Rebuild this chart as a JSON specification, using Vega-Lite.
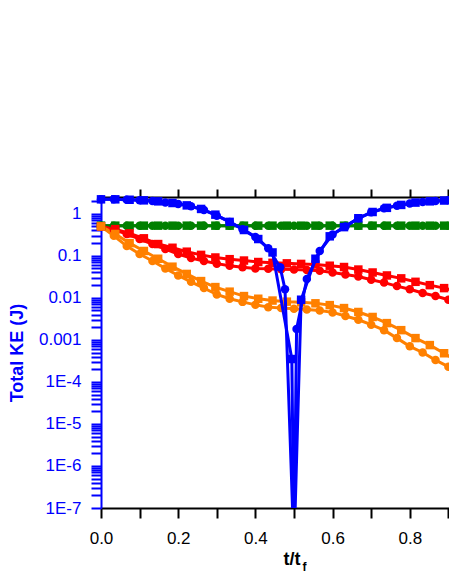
{
 "$schema": "https://vega.github.io/schema/vega-lite/v6.json",
 "width": 348,
 "height": 311,
 "autosize": {"type": "none"},
 "padding": {"left": 101, "top": 197, "right": 0, "bottom": 72},
 "background": "white",
 "config": {"view": {"stroke": null}, "font": "Liberation Sans"},
 "datasets": {
  "others": [
   {"m":"c","t":0,"g":0.52,"r":0.5,"o":0.5},
   {"m":"c","t":0.0333,"g":0.52,"r":0.42,"o":0.30},
   {"m":"c","t":0.0667,"g":0.52,"r":0.33,"o":0.17},
   {"m":"c","t":0.1,"g":0.52,"r":0.25,"o":0.11},
   {"m":"c","t":0.1333,"g":0.52,"r":0.19,"o":0.075},
   {"m":"c","t":0.1667,"g":0.52,"r":0.145,"o":0.05},
   {"m":"c","t":0.2,"g":0.52,"r":0.11,"o":0.034},
   {"m":"c","t":0.2333,"g":0.52,"r":0.088,"o":0.024},
   {"m":"c","t":0.2667,"g":0.52,"r":0.075,"o":0.017},
   {"m":"c","t":0.3,"g":0.52,"r":0.065,"o":0.012},
   {"m":"c","t":0.3333,"g":0.52,"r":0.058,"o":0.0095},
   {"m":"c","t":0.3667,"g":0.52,"r":0.053,"o":0.008},
   {"m":"c","t":0.4,"g":0.52,"r":0.05,"o":0.0068},
   {"m":"c","t":0.4333,"g":0.52,"r":0.049,"o":0.006},
   {"m":"c","t":0.4667,"g":0.52,"r":0.048,"o":0.0057},
   {"m":"c","t":0.5,"g":0.52,"r":0.047,"o":0.0055},
   {"m":"c","t":0.5333,"g":0.52,"r":0.046,"o":0.0053},
   {"m":"c","t":0.5667,"g":0.52,"r":0.044,"o":0.005},
   {"m":"c","t":0.6,"g":0.52,"r":0.04,"o":0.0045},
   {"m":"c","t":0.6333,"g":0.52,"r":0.036,"o":0.0037},
   {"m":"c","t":0.6667,"g":0.52,"r":0.032,"o":0.003},
   {"m":"c","t":0.7,"g":0.52,"r":0.027,"o":0.0023},
   {"m":"c","t":0.7333,"g":0.52,"r":0.023,"o":0.0017},
   {"m":"c","t":0.7667,"g":0.52,"r":0.019,"o":0.0011},
   {"m":"c","t":0.8,"g":0.52,"r":0.016,"o":0.0007},
   {"m":"c","t":0.8333,"g":0.52,"r":0.013,"o":0.0005},
   {"m":"c","t":0.8667,"g":0.52,"r":0.011,"o":0.00033},
   {"m":"c","t":0.9,"g":0.52,"r":0.009,"o":0.00023},
   {"m":"s","t":0,"g":0.52,"r":0.5,"o":0.5},
   {"m":"s","t":0.037,"g":0.52,"r":0.43,"o":0.33},
   {"m":"s","t":0.0741,"g":0.52,"r":0.34,"o":0.2},
   {"m":"s","t":0.1111,"g":0.52,"r":0.26,"o":0.13},
   {"m":"s","t":0.1481,"g":0.52,"r":0.19,"o":0.085},
   {"m":"s","t":0.1852,"g":0.52,"r":0.155,"o":0.055},
   {"m":"s","t":0.2222,"g":0.52,"r":0.125,"o":0.037},
   {"m":"s","t":0.2593,"g":0.52,"r":0.105,"o":0.025},
   {"m":"s","t":0.2963,"g":0.52,"r":0.091,"o":0.018},
   {"m":"s","t":0.3333,"g":0.52,"r":0.083,"o":0.014},
   {"m":"s","t":0.3704,"g":0.52,"r":0.077,"o":0.011},
   {"m":"s","t":0.4074,"g":0.52,"r":0.071,"o":0.0095},
   {"m":"s","t":0.4444,"g":0.52,"r":0.068,"o":0.0086},
   {"m":"s","t":0.4815,"g":0.52,"r":0.066,"o":0.0081},
   {"m":"s","t":0.5185,"g":0.52,"r":0.064,"o":0.0078},
   {"m":"s","t":0.5556,"g":0.52,"r":0.062,"o":0.0074},
   {"m":"s","t":0.5926,"g":0.52,"r":0.058,"o":0.0067},
   {"m":"s","t":0.6296,"g":0.52,"r":0.054,"o":0.0057},
   {"m":"s","t":0.6667,"g":0.52,"r":0.047,"o":0.0046},
   {"m":"s","t":0.7037,"g":0.52,"r":0.04,"o":0.0035},
   {"m":"s","t":0.7407,"g":0.52,"r":0.034,"o":0.0025},
   {"m":"s","t":0.7778,"g":0.52,"r":0.029,"o":0.0017},
   {"m":"s","t":0.8148,"g":0.52,"r":0.024,"o":0.0011},
   {"m":"s","t":0.8519,"g":0.52,"r":0.02,"o":0.00075},
   {"m":"s","t":0.8889,"g":0.52,"r":0.017,"o":0.00048},
   {"m":"s","t":0.9259,"g":0.52,"r":0.014,"o":0.0003}
  ],
  "blue": [
   {"m":"c","t":0,"v":2.2},
   {"m":"c","t":0.0333,"v":2.2},
   {"m":"c","t":0.0667,"v":2.16},
   {"m":"c","t":0.1,"v":2.1},
   {"m":"c","t":0.1333,"v":2.0},
   {"m":"c","t":0.1667,"v":1.86},
   {"m":"c","t":0.2,"v":1.7},
   {"m":"c","t":0.2333,"v":1.5},
   {"m":"c","t":0.2667,"v":1.22},
   {"m":"c","t":0.3,"v":0.9},
   {"m":"c","t":0.3333,"v":0.64},
   {"m":"c","t":0.3667,"v":0.43},
   {"m":"c","t":0.4,"v":0.28},
   {"m":"c","t":0.4333,"v":0.15},
   {"m":"c","t":0.4643,"v":0.053},
   {"m":"c","t":0.4767,"v":0.016},
   {"m":"c","t":0.5,"v":1e-8},
   {"m":"c","t":0.5067,"v":0.0018},
   {"m":"c","t":0.5333,"v":0.028},
   {"m":"c","t":0.5667,"v":0.13},
   {"m":"c","t":0.6,"v":0.32},
   {"m":"c","t":0.6333,"v":0.5},
   {"m":"c","t":0.6667,"v":0.78},
   {"m":"c","t":0.7,"v":1.08},
   {"m":"c","t":0.7333,"v":1.35},
   {"m":"c","t":0.7667,"v":1.55},
   {"m":"c","t":0.8,"v":1.76},
   {"m":"c","t":0.8333,"v":1.9},
   {"m":"c","t":0.8667,"v":2.0},
   {"m":"c","t":0.9,"v":2.08},
   {"m":"s","t":0,"v":2.2},
   {"m":"s","t":0.037,"v":2.2},
   {"m":"s","t":0.0741,"v":2.15},
   {"m":"s","t":0.1111,"v":2.08},
   {"m":"s","t":0.1481,"v":1.97},
   {"m":"s","t":0.1852,"v":1.8},
   {"m":"s","t":0.2222,"v":1.58},
   {"m":"s","t":0.2593,"v":1.3},
   {"m":"s","t":0.2963,"v":0.95},
   {"m":"s","t":0.3333,"v":0.64},
   {"m":"s","t":0.3704,"v":0.41},
   {"m":"s","t":0.4074,"v":0.25},
   {"m":"s","t":0.4444,"v":0.12},
   {"m":"s","t":0.4944,"v":0.00035},
   {"m":"s","t":0.5,"v":1e-8},
   {"m":"s","t":0.5185,"v":0.009},
   {"m":"s","t":0.5556,"v":0.085},
   {"m":"s","t":0.5926,"v":0.29},
   {"m":"s","t":0.6296,"v":0.48},
   {"m":"s","t":0.6667,"v":0.78},
   {"m":"s","t":0.7037,"v":1.1},
   {"m":"s","t":0.7407,"v":1.38},
   {"m":"s","t":0.7778,"v":1.62},
   {"m":"s","t":0.8148,"v":1.84},
   {"m":"s","t":0.8519,"v":1.97},
   {"m":"s","t":0.8889,"v":2.06},
   {"m":"s","t":0.9259,"v":2.12}
  ]
 },
 "resolve": {"axis": {"x": "independent"}},
 "encoding": {
  "y": {
   "field": "v", "type": "quantitative",
   "scale": {"type": "log", "domain": [1e-7, 2.5], "nice": false},
   "axis": {
    "orient": "left",
    "values": [1e-7,2e-7,3e-7,4e-7,5e-7,6e-7,7e-7,8e-7,9e-7,
               1e-6,2e-6,3e-6,4e-6,5e-6,6e-6,7e-6,8e-6,9e-6,
               1e-5,2e-5,3e-5,4e-5,5e-5,6e-5,7e-5,8e-5,9e-5,
               1e-4,2e-4,3e-4,4e-4,5e-4,6e-4,7e-4,8e-4,9e-4,
               0.001,0.002,0.003,0.004,0.005,0.006,0.007,0.008,0.009,
               0.01,0.02,0.03,0.04,0.05,0.06,0.07,0.08,0.09,
               0.1,0.2,0.3,0.4,0.5,0.6,0.7,0.8,0.9,1,2],
    "labelExpr": "abs(log(datum.value)/LN10 - round(log(datum.value)/LN10)) > 0.01 ? '' : (datum.value > 0.0009 ? toString(datum.value) : '1E' + round(log(datum.value)/LN10))",
    "grid": false,
    "domainColor": "#0000ff", "domainWidth": 2,
    "tickColor": "#0000ff", "tickWidth": 2, "tickSize": 10,
    "encode": {"ticks": {"update": {"x2": {"signal": "abs(log(datum.value)/LN10 - round(log(datum.value)/LN10)) < 0.01 ? -10 : -6"}}}},
    "labelFont": "Liberation Sans", "labelFontSize": 17, "labelColor": "#0000ff",
    "labelPadding": 10, "labelOverlap": false, "labelFlush": false, "labelBound": false,
    "title": "Total KE (J)", "titleFont": "Liberation Sans", "titleFontSize": 18, "titleFontWeight": "bold",
    "titleColor": "#0000ff", "titleX": -84, "titleY": 155.5, "titleAngle": -90,
    "titleAlign": "center", "titleBaseline": "middle"
   }
  }
 },
 "layer": [
  {
   "data": {"name": "others"},
   "transform": [{"fold": ["g", "r", "o"], "as": ["s", "v"]}],
   "encoding": {
    "x": {
     "field": "t", "type": "quantitative",
     "scale": {"domain": [0, 0.9016], "nice": false, "zero": false},
     "axis": {
      "orient": "bottom",
      "values": [0, 0.1, 0.2, 0.3, 0.4, 0.5, 0.6, 0.7, 0.8, 0.9],
      "labelExpr": "round(datum.value*10) % 2 == 0 ? format(datum.value, '.1f') : ''",
      "grid": false,
      "domainColor": "black", "domainWidth": 2,
      "tickColor": "black", "tickWidth": 2, "tickSize": 10,
      "encode": {"ticks": {"update": {"y2": {"signal": "round(datum.value*10) % 2 == 0 ? 10 : 5"}}}},
      "labelFont": "Liberation Sans", "labelFontSize": 17, "labelColor": "black",
      "labelPadding": 12, "labelOverlap": false, "labelFlush": false,
      "title": "t/t", "titleFont": "Liberation Sans", "titleFontSize": 18, "titleFontWeight": "bold",
      "titleColor": "black", "titleX": 182, "titleY": 56, "titleAlign": "left", "titleBaseline": "alphabetic"
     }
    },
    "color": {
     "field": "s", "type": "nominal",
     "scale": {"domain": ["b", "g", "r", "o"], "range": ["#0000ff", "#008000", "#ff0000", "#ff8000"]},
     "legend": null
    }
   },
   "layer": [
    {"mark": {"type": "line", "strokeWidth": 3, "clip": true}, "encoding": {"detail": {"field": "m"}}},
    {"mark": {"type": "point", "filled": true, "size": 72, "opacity": 1},
     "encoding": {"shape": {"field": "m", "type": "nominal", "scale": {"domain": ["c", "s"], "range": ["circle", "square"]}, "legend": null}}}
   ]
  },
  {
   "data": {"name": "blue"},
   "encoding": {
    "x": {
     "field": "t", "type": "quantitative",
     "axis": {
      "orient": "top",
      "values": [0.1, 0.2, 0.3, 0.4, 0.5, 0.6, 0.7, 0.8, 0.9],
      "labels": false, "grid": false,
      "domainColor": "black", "domainWidth": 2,
      "tickColor": "black", "tickWidth": 2, "tickSize": 8,
      "encode": {"ticks": {"update": {"y2": {"signal": "round(datum.value*10) % 2 == 0 ? 8 : 5"}}}},
      "title": "f", "titleFont": "Liberation Sans", "titleFontSize": 12, "titleFontWeight": "bold",
      "titleColor": "black", "titleX": 201, "titleY": 373, "titleAlign": "left", "titleBaseline": "alphabetic"
     }
    }
   },
   "layer": [
    {"mark": {"type": "line", "strokeWidth": 3, "clip": true, "color": "#0000ff"}, "encoding": {"detail": {"field": "m"}}},
    {"transform": [{"filter": "datum.v > 1e-7"}],
     "mark": {"type": "point", "filled": true, "size": 72, "opacity": 1, "color": "#0000ff"},
     "encoding": {"shape": {"field": "m", "type": "nominal", "legend": null}}}
   ]
  }
 ]
}
